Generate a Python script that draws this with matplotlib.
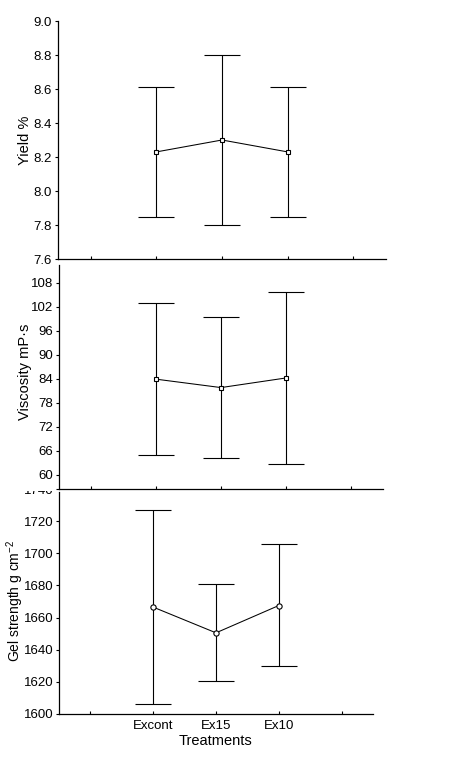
import matplotlib
matplotlib.use("Agg")
import matplotlib.pyplot as plt
from matplotlib.transforms import Bbox, TransformedBbox

plt.rcParams["font.family"] = ["Liberation Sans", "DejaVu Sans"]
plt.rcParams["mathtext.fontset"] = "custom"
plt.rcParams["mathtext.rm"] = "Liberation Sans"
plt.rcParams["mathtext.it"] = "Liberation Sans:italic"
plt.rcParams["font.size"] = 9

treatments = ["Excont", "Ex15", "Ex10"]
x_pos = [1, 2, 3]

# means with lower / upper ends of the whiskers
yield_mean = [8.23, 8.30, 8.23]
yield_low = [7.85, 7.80, 7.85]
yield_high = [8.61, 8.80, 8.61]

visc_mean = [83.9, 81.8, 84.2]
visc_low = [64.9, 64.1, 62.6]
visc_high = [103.0, 99.5, 105.7]

gel_mean = [1666.5, 1650.5, 1667.5]
gel_low = [1606.0, 1620.3, 1629.6]
gel_high = [1727.0, 1681.0, 1706.0]

W, H = 460, 760
fig = plt.figure(figsize=(W / 100, H / 100), dpi=100)


def add_panel(left, right, top, bottom):
    return fig.add_axes([left / W, 1 - bottom / H, (right - left) / W, (bottom - top) / H])


def draw(ax, mean, low, high, marker, msize):
    yerr = [[m - l for m, l in zip(mean, low)], [h - m for m, h in zip(mean, high)]]
    ax.errorbar(x_pos, mean, yerr=yerr, fmt="none", ecolor="black",
                elinewidth=0.8, capsize=13, capthick=0.8)
    ax.plot(x_pos, mean, color="black", lw=0.75, marker=marker, markersize=msize,
            markerfacecolor="white", markeredgecolor="black", markeredgewidth=0.8, zorder=3)
    ax.set_xlim(-0.5, 4.5)
    ax.set_xticks([0, 1, 2, 3, 4])
    ax.spines["top"].set_visible(False)
    ax.spines["right"].set_visible(False)
    for s in ("left", "bottom"):
        ax.spines[s].set_linewidth(0.9)
    ax.tick_params(axis="x", direction="in", length=2, width=0.8)
    ax.tick_params(axis="y", direction="out", length=2, width=0.8, pad=2.2, labelsize=9.5)
    ax.patch.set_alpha(0)


ax3 = add_panel(59, 373, 489, 714)
ax2 = add_panel(59, 383, 259, 489)
ax1 = add_panel(58, 386, 21, 259)

draw(ax1, yield_mean, yield_low, yield_high, "s", 3.2)
ax1.set_ylim(7.6, 9.0)
ax1.set_yticks([7.6, 7.8, 8.0, 8.2, 8.4, 8.6, 8.8, 9.0])
ax1.set_yticklabels(["7.6", "7.8", "8.0", "8.2", "8.4", "8.6", "8.8", "9.0"])
ax1.set_xticklabels([])

draw(ax2, visc_mean, visc_low, visc_high, "s", 3.2)
ax2.set_ylim(56.4, 114)
ax2.set_yticks([60, 66, 72, 78, 84, 90, 96, 102, 108])
ax2.spines["left"].set_bounds(56.4, 112.5)
ax2.set_xticklabels([])

draw(ax3, gel_mean, gel_low, gel_high, "o", 3.8)
ax3.set_ylim(1600, 1740)
ax3.set_yticks([1600, 1620, 1640, 1660, 1680, 1700, 1720, 1740])
ax3.spines["left"].set_bounds(1600, 1738)
ax3.set_xticklabels(["", "Excont", "Ex15", "Ex10", ""])
ax3.tick_params(axis="x", pad=4, labelsize=9.5)

# the top label of the bottom panel is partly hidden by the panel above
clip = TransformedBbox(Bbox.from_extents(0, 0, 1, 1 - 491 / H), fig.transFigure)
for lbl in ax3.get_yticklabels():
    lbl.set_clip_on(True)
    lbl.set_clip_box(clip)

fig.text(25 / W, 1 - 140 / H, "Yield %", rotation=90, ha="center", va="center", fontsize=10.5)
fig.text(25 / W, 1 - 372 / H, "Viscosity mP\u00b7s", rotation=90, ha="center", va="center", fontsize=10.5)
fig.text(15 / W, 1 - 601 / H, "Gel strength g cm$^{-2}$", rotation=90, ha="center", va="center", fontsize=10)
fig.text(216 / W, 1 - 741 / H, "Treatments", ha="center", va="center", fontsize=10.5)

fig.savefig("out.png", dpi=100, facecolor="white")
